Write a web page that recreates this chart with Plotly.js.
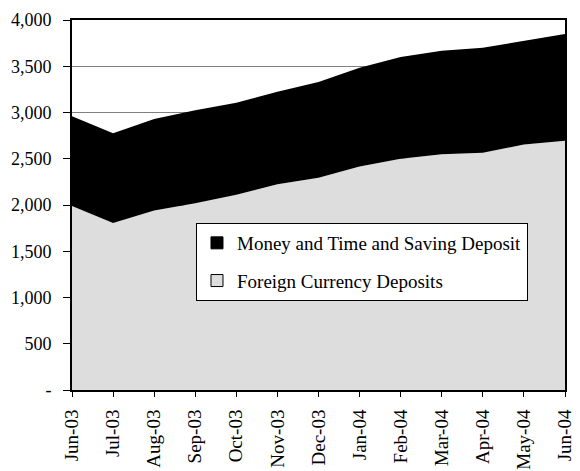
<!DOCTYPE html>
<html>
<head>
<meta charset="utf-8">
<script src="https://cdn.plot.ly/plotly-3.0.1.min.js"></script>
<style>html,body{margin:0;padding:0;background:#fff;}#chart{width:580px;height:471px;}</style>
</head>
<body>
<div id="chart"></div>
<script>
const months = ["Jun-03","Jul-03","Aug-03","Sep-03","Oct-03","Nov-03","Dec-03","Jan-04","Feb-04","Mar-04","Apr-04","May-04","Jun-04"];
const foreignCurrency = [1990, 1805, 1940, 2020, 2110, 2225, 2295, 2415, 2500, 2550, 2565, 2655, 2695];
const moneyTimeSaving = [970, 970, 990, 1005, 995, 1000, 1035, 1070, 1100, 1118, 1135, 1123, 1155];
const yTickVals = [0, 500, 1000, 1500, 2000, 2500, 3000, 3500, 4000];
const yTickText = ["-", "500", "1,000", "1,500", "2,000", "2,500", "3,000", "3,500", "4,000"];
const seriesNames = ["Money and Time and Saving Deposit", "Foreign Currency Deposits"];

const FONT = "Liberation Serif";

const traces = [
  {
    x: months, y: foreignCurrency, type: "scatter", mode: "lines",
    stackgroup: "a", fillcolor: "#dddddd", line: {width: 0, color: "#dddddd"},
    showlegend: false, hoverinfo: "skip"
  },
  {
    x: months, y: moneyTimeSaving, type: "scatter", mode: "lines",
    stackgroup: "a", fillcolor: "#000000", line: {width: 0, color: "#000000"},
    showlegend: false, hoverinfo: "skip"
  },
  {
    x: [null], y: [null], type: "scatter", mode: "markers", name: seriesNames[0],
    legendgroup: "g1",
    marker: {symbol: "square", size: 12, color: "#000000", line: {color: "#000000", width: 1}}
  },
  {
    x: [null], y: [null], type: "scatter", mode: "markers", name: seriesNames[1],
    legendgroup: "g2",
    marker: {symbol: "square", size: 12, color: "#dddddd", line: {color: "#000000", width: 1}}
  }
];

const layout = {
  width: 580, height: 471,
  margin: {l: 72, r: 15, t: 20, b: 81},
  paper_bgcolor: "#ffffff", plot_bgcolor: "#ffffff",
  font: {family: FONT, size: 18, color: "#000000"},
  showlegend: true,
  legend: {
    x: 0.2515, y: 0.4514, xanchor: "left", yanchor: "top",
    bgcolor: "#ffffff", bordercolor: "#000000", borderwidth: 1,
    font: {family: FONT, size: 19, color: "#000000"},
    traceorder: "grouped", tracegroupgap: 10,
    itemwidth: 30
  },
  xaxis: {
    type: "category", range: [0, 12],
    showgrid: false, zeroline: false,
    showline: true, linecolor: "#000000", linewidth: 2, mirror: true,
    ticks: "outside", ticklen: 5, tickcolor: "#000000", tickwidth: 1,
    ticklabelstandoff: 5,
    tickangle: -90, tickfont: {family: FONT, size: 19, color: "#000000"}
  },
  yaxis: {
    range: [0, 4000],
    tickvals: yTickVals, ticktext: yTickText,
    showgrid: true, gridcolor: "#808080", gridwidth: 1,
    zeroline: false,
    showline: true, linecolor: "#000000", linewidth: 2, mirror: true,
    ticks: "outside", ticklen: 7, tickcolor: "#000000", tickwidth: 1,
    ticklabelstandoff: 8,
    tickfont: {family: FONT, size: 18, color: "#000000"}
  }
};

Plotly.newPlot("chart", traces, layout, {displayModeBar: false, staticPlot: true});
</script>
</body>
</html>
